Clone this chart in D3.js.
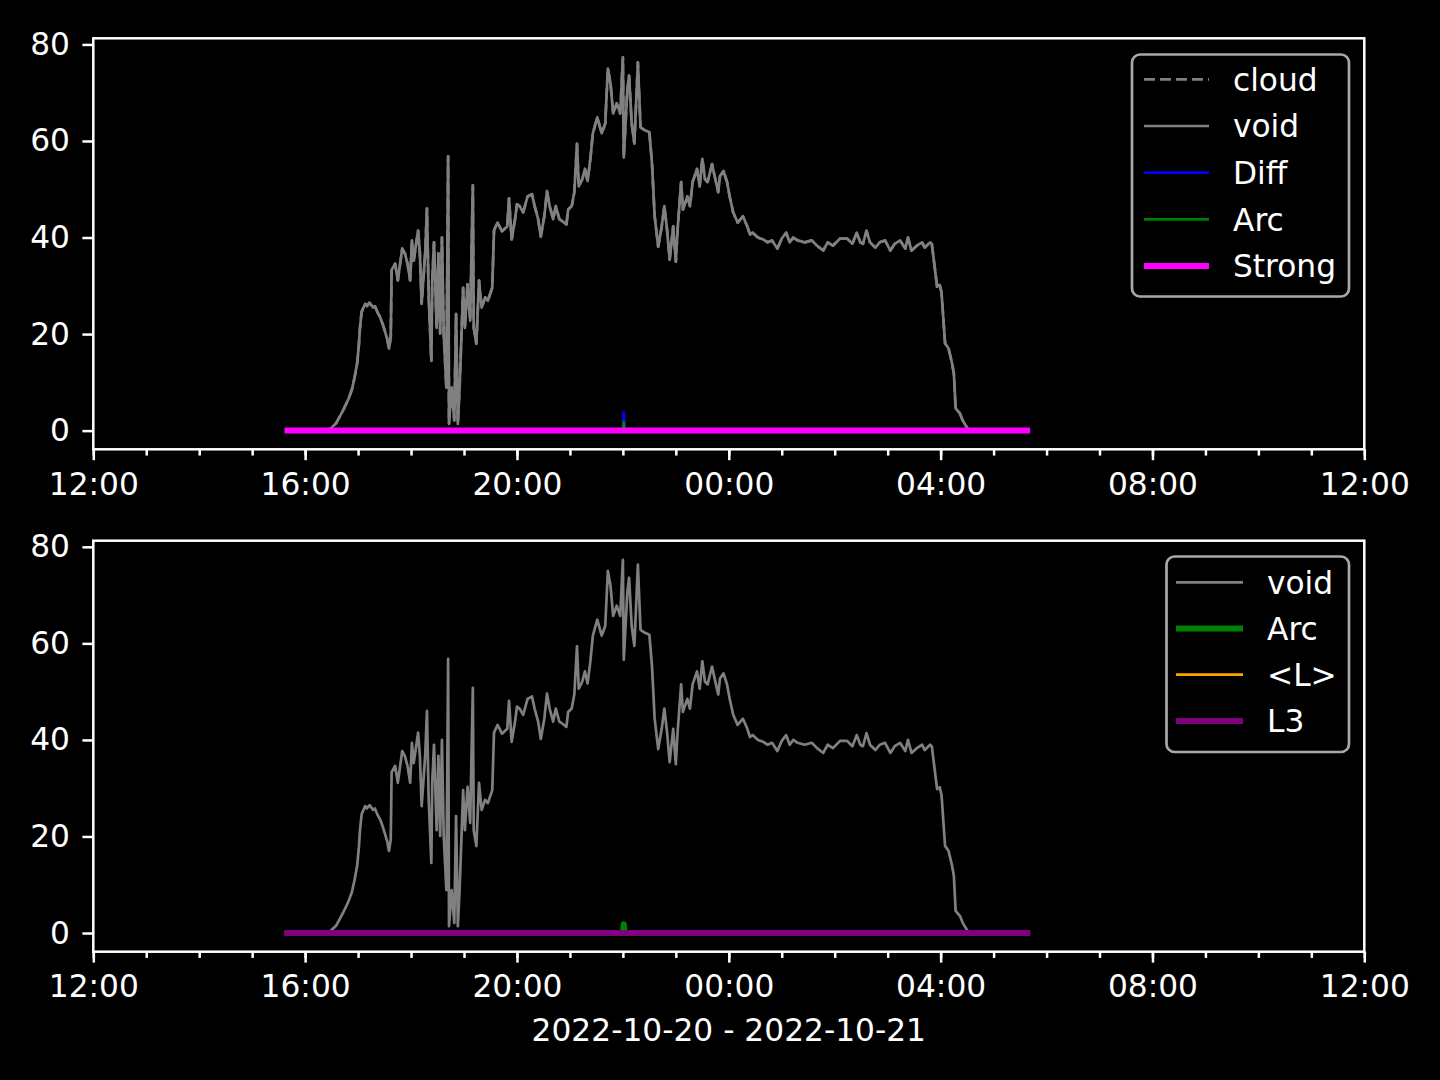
<!DOCTYPE html>
<html>
<head>
<meta charset="utf-8">
<script src="https://cdn.jsdelivr.net/npm/d3@7"></script>
<style>
  html, body { margin: 0; padding: 0; background: #000; }
  svg { display: block; }
  text { font-family: "DejaVu Sans", sans-serif; fill: #fff; }
</style>
</head>
<body>
<svg id="chart" width="1440" height="1080"></svg>
<script>
// ---------- data ----------
const voidTimes = ["15:40","16:28","16:35","16:43","16:49","16:53","16:56","16:59","17:01","17:02","17:04","17:08","17:10","17:13","17:17","17:19","17:22","17:25","17:28","17:30","17:33","17:35","17:37","17:38","17:42","17:45","17:50","17:53","17:56","17:59","18:01","18:03","18:08","18:10","18:12","18:16","18:18","18:20","18:23","18:24","18:26","18:29","18:31","18:33","18:35","18:37","18:40","18:42","18:43","18:46","18:49","18:51","18:53","18:55","18:59","19:01","19:04","19:07","19:10","19:11","19:14","19:17","19:20","19:24","19:27","19:32","19:34","19:38","19:43","19:49","19:51","19:54","19:58","20:00","20:03","20:07","20:12","20:17","20:20","20:24","20:27","20:31","20:34","20:37","20:41","20:44","20:48","20:52","20:56","20:58","21:02","21:05","21:08","21:10","21:14","21:17","21:20","21:23","21:26","21:31","21:36","21:40","21:43","21:46","21:49","21:53","21:57","22:00","22:01","22:05","22:07","22:10","22:13","22:17","22:20","22:25","22:30","22:33","22:36","22:40","22:44","22:47","22:50","22:53","22:57","23:00","23:02","23:06","23:08","23:13","23:16","23:19","23:24","23:27","23:30","23:33","23:36","23:41","23:44","23:48","23:50","23:54","23:58","00:01","00:05","00:10","00:16","00:21","00:24","00:27","00:33","00:39","00:44","00:49","00:55","01:00","01:05","01:09","01:13","01:18","01:26","01:34","01:40","01:47","01:52","01:58","02:06","02:14","02:20","02:25","02:29","02:32","02:36","02:40","02:46","02:51","02:57","03:03","03:08","03:14","03:20","03:23","03:27","03:33","03:39","03:42","03:48","03:50","03:56","03:59","04:01","04:05","04:09","04:13","04:15","04:17","04:22","04:25","04:30","04:32","05:38"];
const voidValues = [0,0.3,1.5,4.2,6.5,8.5,11,14,18,21,24.6,26.3,25.8,26.5,25.5,25.8,24.5,23.5,22,20.8,19,17,19.4,33.3,34.6,31.1,37.7,36.7,34.6,31.1,39.4,35.2,41.5,36.7,26.3,36.7,46,27.6,14.5,31.1,39,21.3,36.7,20.1,40,20.1,8.9,56.8,1.4,8.9,2.1,24.2,1.4,8.9,29.6,21.3,30.3,22.8,50.8,21.3,18,31.1,25.5,27.6,26.9,29.6,41.5,43.1,41.3,42.3,48.1,39.6,44,46.9,46.5,45.2,48.5,49,46.5,43.8,40.2,44.4,49.6,46.5,43.8,46.5,43.8,43.3,42.7,45.8,46.5,49.4,59.4,50.6,52.1,54.2,51.7,56,61.6,64.9,61.6,63.6,75,71.9,65.7,67.8,65.7,77.3,56.6,70.5,73.6,63.6,59.5,76.3,62.8,62.2,61.8,55.3,44.4,38.1,42.3,46.5,41.7,35.4,42.3,35,41.7,51.5,45.8,48.5,46.5,51.5,54.2,50.6,56.3,52.1,51.5,55.2,52.7,49.4,52.7,53.8,51.5,48.5,45.2,43.1,44.4,42.3,40.6,41,40,39.6,39,39.4,37.7,39.8,41,39,40,39.4,39,39.4,38.3,37.3,39,38.3,39.8,39.8,38.7,41,39,38.7,41.4,39,37.9,39,39.4,37.3,38.7,39.4,37.7,40,37.3,38.3,39,37.9,39,38.7,29.8,30.2,28.6,18.1,17,13.9,11.8,4.6,3.5,2.1,0.6,0,0];
const cloudTimes = voidTimes;
const cloudValues = voidValues;
const spikeTimes = ["15:40","22:00","22:01","22:02","05:38"];
const diffValues = [0,0,3.8,0,0];
const arcValues = [0,0,1.8,0,0];
const flatTimes = ["15:40","05:38"];
const strongValues = [0,0];
const lValues = [0,0];
const l3Values = [0,0];

const yTickValues = [0,20,40,60,80];
const yLimits = [-3.87, 81.27];
const xLabel = "2022-10-20 - 2022-10-21";
const topLegendLabels = ["cloud","void","Diff","Arc","Strong"];
const bottomLegendLabels = ["void","Arc","<L>","L3"];

// ---------- helpers ----------
function toDate(s) {
  const [h, m] = s.split(":").map(Number);
  const day = h >= 12 ? 20 : 21;
  return new Date(Date.UTC(2022, 9, day, h, m));
}
function series(times, values) {
  return times.map((t, i) => ({ t: toDate(t), v: values[i] }));
}

const FS = "31.25px";
const svg = d3.select("#chart");
const L = 93.3, R = 1364.3, PH = 411;
const panels = [{ top: 38.3 }, { top: 540.7 }];

const x = d3.scaleUtc()
  .domain([new Date(Date.UTC(2022, 9, 20, 12)), new Date(Date.UTC(2022, 9, 21, 12))])
  .range([L, R]);

function drawPanel(top, lines, legendItems, legendBox, showXLabel) {
  const y = d3.scaleLinear().domain(yLimits).range([top + PH, top]);
  const g = svg.append("g");
  const clipId = "clip" + Math.round(top);
  svg.append("clipPath").attr("id", clipId).append("rect")
    .attr("x", L).attr("y", top).attr("width", R - L).attr("height", PH);

  const line = d3.line().x(d => x(d.t)).y(d => y(d.v));
  const plot = g.append("g").attr("clip-path", `url(#${clipId})`);
  lines.forEach(s => {
    plot.append("path")
      .datum(series(s.times, s.values))
      .attr("d", line)
      .attr("fill", "none")
      .attr("stroke", s.color)
      .attr("stroke-width", s.width)
      .attr("stroke-dasharray", s.dash || null)
      .attr("stroke-linecap", s.dash ? "butt" : "square")
      .attr("stroke-linejoin", "round");
  });

  // spines
  g.append("rect").attr("x", L).attr("y", top).attr("width", R - L).attr("height", PH)
    .attr("fill", "none").attr("stroke", "#fff").attr("stroke-width", 2.5);

  const xa = g.append("g").attr("transform", `translate(0,${top + PH})`)
    .call(d3.axisBottom(x).ticks(d3.utcHour.every(4)).tickFormat(d3.utcFormat("%H:%M"))
      .tickSize(10.9).tickPadding(12.5));
  const xm = g.append("g").attr("transform", `translate(0,${top + PH})`)
    .call(d3.axisBottom(x).ticks(d3.utcHour.every(1)).tickFormat("").tickSize(6.25));
  const ya = g.append("g").attr("transform", `translate(${L},0)`)
    .call(d3.axisLeft(y).tickValues(yTickValues).tickSize(10.9).tickPadding(12.5));

  [xa, xm, ya].forEach(a => {
    a.select(".domain").remove();
    a.selectAll(".tick line").attr("stroke", "#fff").attr("stroke-width", 2.5);
    a.selectAll(".tick text").attr("fill", "#fff").style("font-size", FS)
      .style("font-family", "'DejaVu Sans', sans-serif");
  });

  if (showXLabel) {
    g.append("text").attr("x", (L + R) / 2).attr("y", 1041)
      .attr("text-anchor", "middle").style("font-size", FS).text(xLabel);
  }

  const lg = g.append("g");
  lg.append("rect").attr("x", legendBox.x).attr("y", legendBox.y)
    .attr("width", legendBox.w).attr("height", legendBox.h)
    .attr("rx", 8).attr("ry", 8)
    .attr("fill", "#000").attr("fill-opacity", 0.8)
    .attr("stroke", "#a8a8a8").attr("stroke-width", 2.7);
  legendItems.forEach((it, i) => {
    const cy = legendBox.rowTop + i * legendBox.rowGap;
    lg.append("line").attr("x1", legendBox.lx1).attr("x2", legendBox.lx2)
      .attr("y1", cy).attr("y2", cy)
      .attr("stroke", it.color).attr("stroke-width", it.width)
      .attr("stroke-dasharray", it.dash || null);
    lg.append("text").attr("x", legendBox.tx).attr("y", cy).attr("dy", "0.36em")
      .style("font-size", FS).text(it.label);
  });
}

const topLines = [
  { times: cloudTimes, values: cloudValues, color: "#808080", width: 2.7, dash: "11,5" },
  { times: voidTimes, values: voidValues, color: "#808080", width: 2.7 },
  { times: spikeTimes, values: diffValues, color: "#0000ff", width: 2.7 },
  { times: spikeTimes, values: arcValues, color: "#008000", width: 2.7 },
  { times: flatTimes, values: strongValues, color: "#ff00ff", width: 6 }
];
const topLegend = [
  { label: topLegendLabels[0], color: "#808080", width: 2.7, dash: "11,5" },
  { label: topLegendLabels[1], color: "#808080", width: 2.7 },
  { label: topLegendLabels[2], color: "#0000ff", width: 2.7 },
  { label: topLegendLabels[3], color: "#008000", width: 2.7 },
  { label: topLegendLabels[4], color: "#ff00ff", width: 6 }
];
drawPanel(panels[0].top, topLines, topLegend,
  { x: 1132, y: 54.5, w: 217, h: 242, rowTop: 79.3, rowGap: 46.7, lx1: 1144, lx2: 1209, tx: 1233 }, false);

const bottomLines = [
  { times: voidTimes, values: voidValues, color: "#808080", width: 2.7 },
  { times: spikeTimes, values: arcValues, color: "#008000", width: 6 },
  { times: flatTimes, values: lValues, color: "#ffa500", width: 2.7 },
  { times: flatTimes, values: l3Values, color: "#800080", width: 6 }
];
const bottomLegend = [
  { label: bottomLegendLabels[0], color: "#808080", width: 2.7 },
  { label: bottomLegendLabels[1], color: "#008000", width: 6 },
  { label: bottomLegendLabels[2], color: "#ffa500", width: 2.7 },
  { label: bottomLegendLabels[3], color: "#800080", width: 6 }
];
drawPanel(panels[1].top, bottomLines, bottomLegend,
  { x: 1166.5, y: 556.5, w: 182.5, h: 195.5, rowTop: 582.3, rowGap: 46.2, lx1: 1176, lx2: 1243, tx: 1267 }, true);
</script>
</body>
</html>
